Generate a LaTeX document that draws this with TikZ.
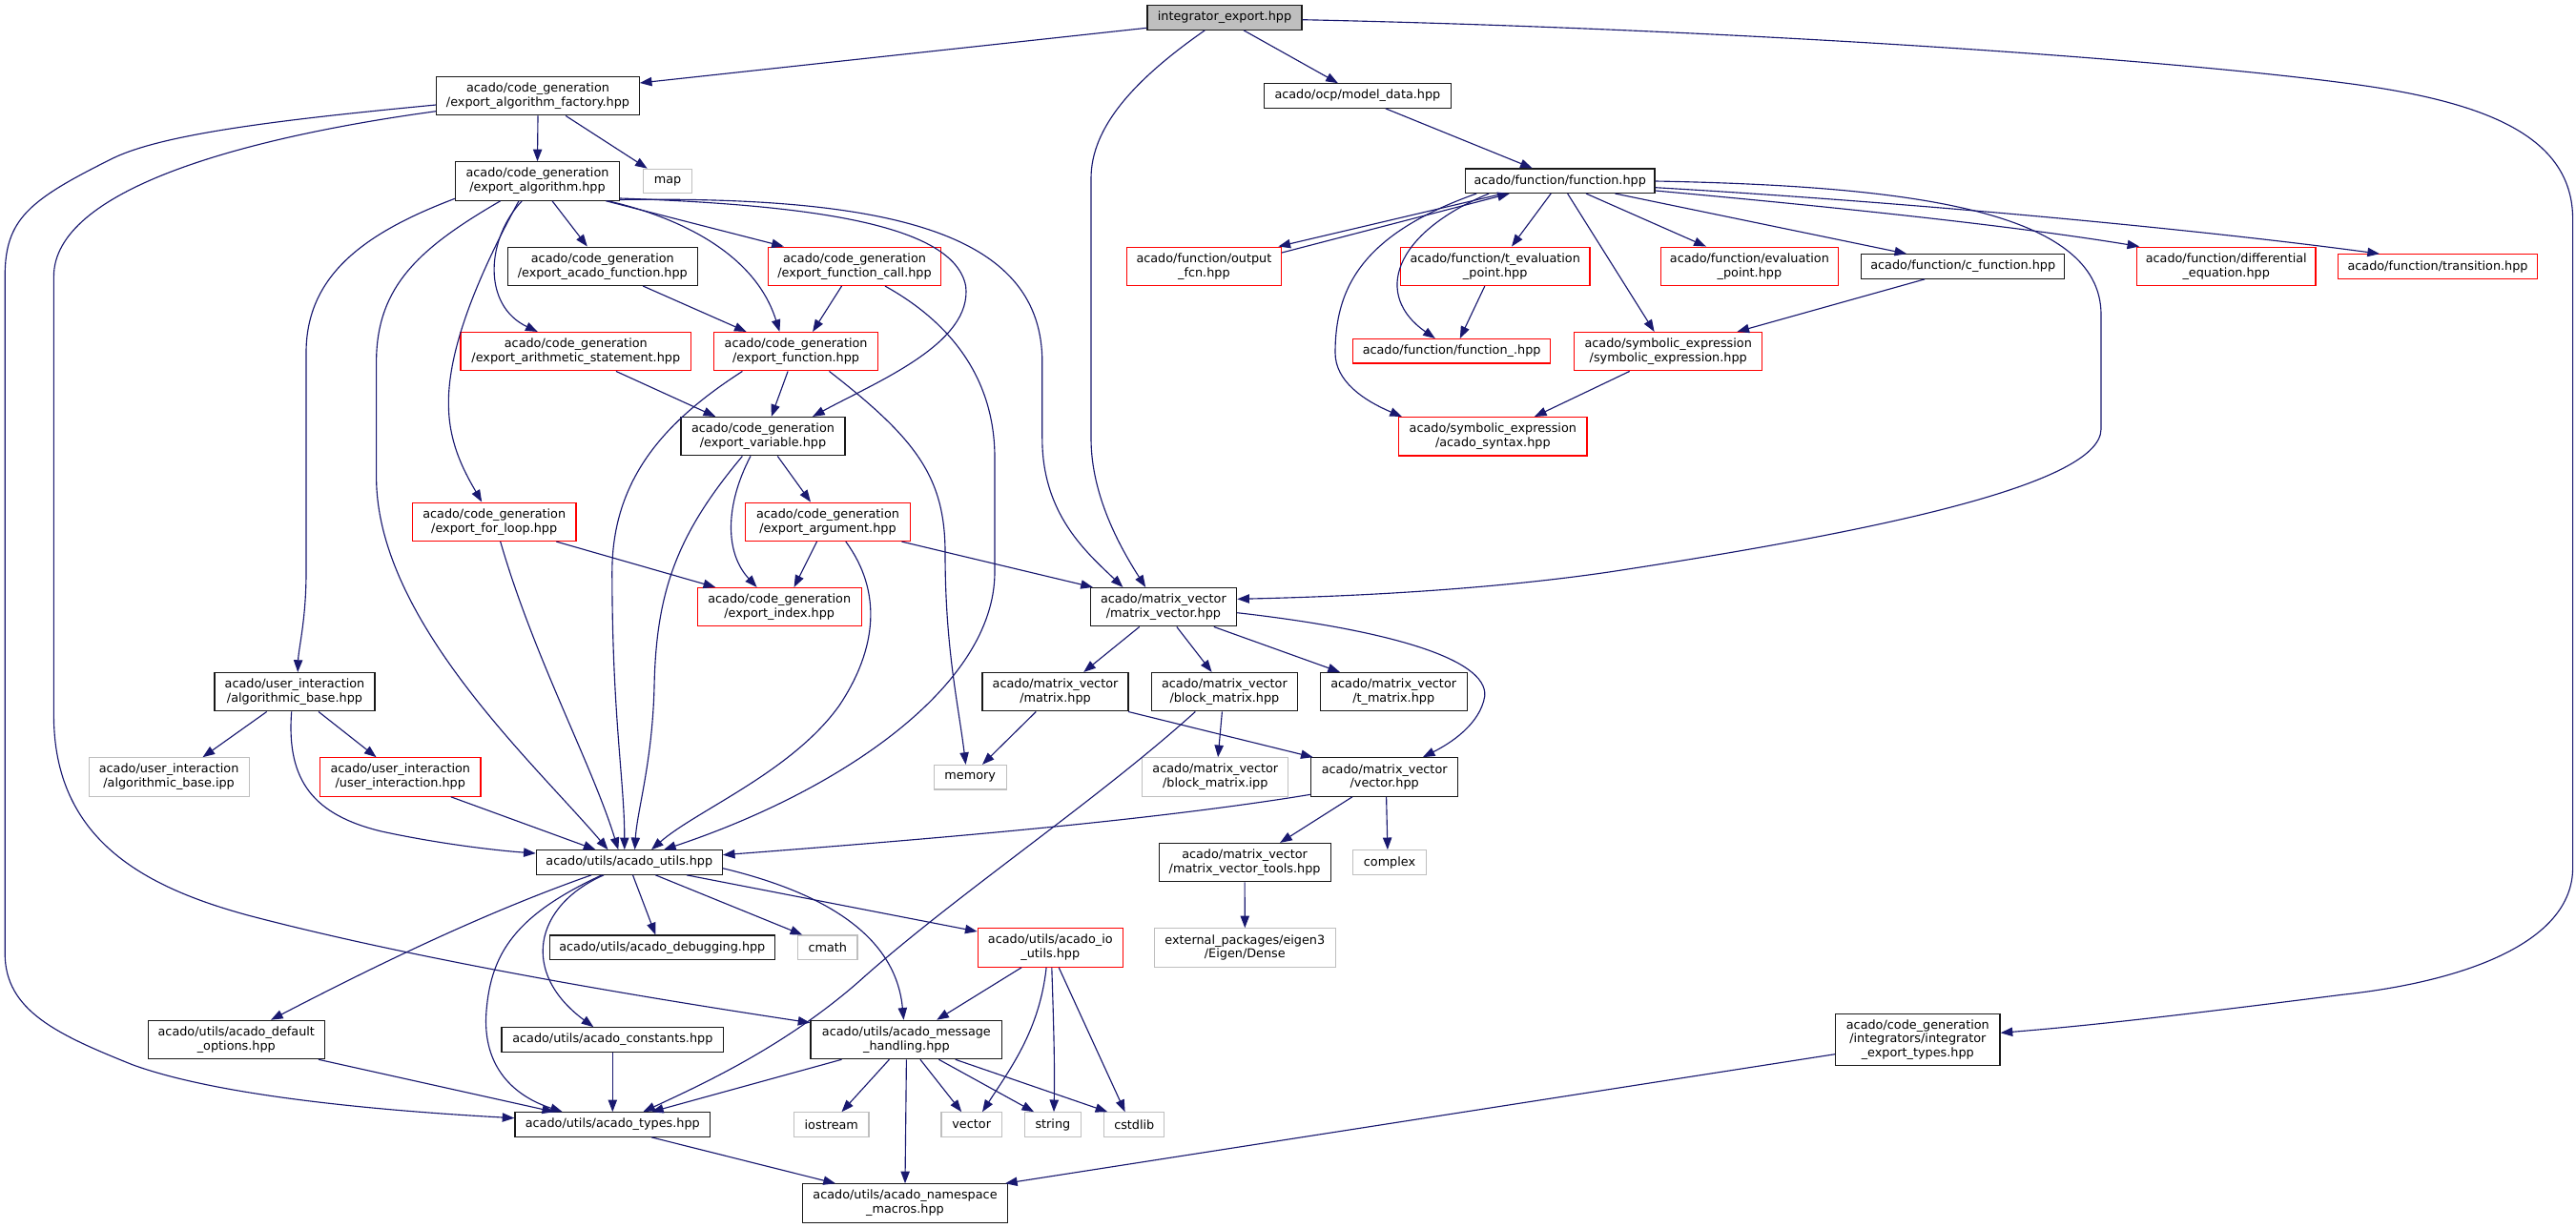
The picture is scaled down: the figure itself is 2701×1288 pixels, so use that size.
\documentclass[tikz,border=0pt]{standalone}
\usepackage{fontspec}
\setmainfont{DejaVu Sans}
\usetikzlibrary{arrows.meta,calc}
\definecolor{mblue}{HTML}{191970}
\newdimen\pxu \pxu=0.75pt
\newcommand\bx[6]{\node[#1,minimum width=#4\pxu,minimum height=#5\pxu] (#2) at (#3) {#6};}
\tikzset{
  box/.style={rectangle, inner sep=0pt, align=center, font=\fontsize{9.6}{11.1}\selectfont, line width=0.85pt, fill=white},
  bbox/.style={box, draw=black!90},
  rbox/.style={box, draw=red},
  gbox/.style={box, draw=black!25},
  rootbox/.style={box, draw=black!90, fill=black!25},
  dep/.style={draw=mblue, line width=0.85pt, -{Triangle[length=9.5pt,width=7pt]}}
}
\begin{document}
\begin{tikzpicture}[x=0.75pt,y=-0.75pt]
\fill[white] (0,0) rectangle (2701,1288);
\useasboundingbox (0,0) rectangle (2701,1288);
% nodes
\bx{rootbox}{IE}{1284,18.5}{162}{25.5}{integrator\_export.hpp}
\bx{bbox}{FAC}{564,100.7}{212.5}{40.4}{acado/code\_generation\\/export\_algorithm\_factory.hpp}
\bx{gbox}{MAP}{700,190}{51}{25.5}{map}
\bx{bbox}{EA}{563.5,190}{172}{40.4}{acado/code\_generation\\/export\_algorithm.hpp}
\bx{bbox}{MD}{1423.4,100.5}{196.5}{25.5}{acado/ocp/model\_data.hpp}
\bx{bbox}{F}{1635.7,189.7}{198.6}{25.5}{acado/function/function.hpp}
\bx{bbox}{EAF}{631.8,279.3}{198.6}{40.4}{acado/code\_generation\\/export\_acado\_function.hpp}
\bx{rbox}{EFC}{896,279.3}{181.3}{40.4}{acado/code\_generation\\/export\_function\_call.hpp}
\bx{rbox}{OF}{1262.4,279.3}{162.2}{40.4}{acado/function/output\\\_fcn.hpp}
\bx{rbox}{TEP}{1567.7,279.3}{198.6}{40.4}{acado/function/t\_evaluation\\\_point.hpp}
\bx{rbox}{EP}{1834.4,279.3}{186.5}{40.4}{acado/function/evaluation\\\_point.hpp}
\bx{bbox}{CF}{2058.2,279.5}{213.3}{25.5}{acado/function/c\_function.hpp}
\bx{rbox}{DE}{2334.2,279.3}{187.4}{40.4}{acado/function/differential\\\_equation.hpp}
\bx{rbox}{TR}{2556,279.5}{209}{25.5}{acado/function/transition.hpp}
\bx{rbox}{EAS}{603.8,368.7}{241.6}{40.4}{acado/code\_generation\\/export\_arithmetic\_statement.hpp}
\bx{rbox}{EF}{834.6,368.7}{172}{40.4}{acado/code\_generation\\/export\_function.hpp}
\bx{rbox}{FU}{1522.1,368.3}{207.3}{25.5}{acado/function/function\_.hpp}
\bx{rbox}{SE}{1749.2,368.7}{197.3}{40.4}{acado/symbolic\_expression\\/symbolic\_expression.hpp}
\bx{bbox}{EV}{800,457.7}{172}{40.4}{acado/code\_generation\\/export\_variable.hpp}
\bx{rbox}{AS}{1565.3,457.8}{197.3}{40.4}{acado/symbolic\_expression\\/acado\_syntax.hpp}
\bx{rbox}{EFL}{518.2,547.3}{171.6}{40.4}{acado/code\_generation\\/export\_for\_loop.hpp}
\bx{rbox}{EAR}{868,547.3}{172.2}{40.4}{acado/code\_generation\\/export\_argument.hpp}
\bx{rbox}{EI}{817.2,636.7}{172.2}{40.4}{acado/code\_generation\\/export\_index.hpp}
\bx{bbox}{MV}{1219.9,636.7}{153.5}{40.4}{acado/matrix\_vector\\/matrix\_vector.hpp}
\bx{bbox}{ABH}{309,725.7}{168}{40.4}{acado/user\_interaction\\/algorithmic\_base.hpp}
\bx{bbox}{MX}{1106.5,725.7}{153}{40.4}{acado/matrix\_vector\\/matrix.hpp}
\bx{bbox}{BM}{1283.9,725.7}{153}{40.4}{acado/matrix\_vector\\/block\_matrix.hpp}
\bx{bbox}{TM}{1461.2,725.7}{154}{40.4}{acado/matrix\_vector\\/t\_matrix.hpp}
\bx{gbox}{ABI}{177.1,815}{168}{40.4}{acado/user\_interaction\\/algorithmic\_base.ipp}
\bx{rbox}{UI}{419.8,815}{168.3}{40.4}{acado/user\_interaction\\/user\_interaction.hpp}
\bx{gbox}{MEM}{1017.2,815.2}{76}{25.5}{memory}
\bx{gbox}{BMI}{1274.3,815}{153}{40.4}{acado/matrix\_vector\\/block\_matrix.ipp}
\bx{bbox}{VEC}{1451.7,815}{154}{40.4}{acado/matrix\_vector\\/vector.hpp}
\bx{bbox}{AU}{659.8,904.5}{195}{25.5}{acado/utils/acado\_utils.hpp}
\bx{bbox}{MVT}{1305.1,904.7}{180}{40.4}{acado/matrix\_vector\\/matrix\_vector\_tools.hpp}
\bx{gbox}{CPX}{1457,904.5}{76.3}{25.5}{complex}
\bx{bbox}{AD}{694.3,993.8}{236}{25.5}{acado/utils/acado\_debugging.hpp}
\bx{gbox}{CM}{867.8,993.8}{62.5}{25.5}{cmath}
\bx{rbox}{IO}{1101.3,994}{152.2}{40.4}{acado/utils/acado\_io\\\_utils.hpp}
\bx{gbox}{EIG}{1305.3,994}{190}{40.4}{external\_packages/eigen3\\/Eigen/Dense}
\bx{bbox}{DO}{247.8,1090.5}{185.2}{40.4}{acado/utils/acado\_default\\\_options.hpp}
\bx{bbox}{CO}{642.3,1090.5}{232.5}{25.5}{acado/utils/acado\_constants.hpp}
\bx{bbox}{MH}{950.4,1090.5}{200.8}{40.4}{acado/utils/acado\_message\\\_handling.hpp}
\bx{bbox}{IET}{2010.8,1090.5}{172.4}{54.4}{acado/code\_generation\\/integrators/integrator\\\_export\_types.hpp}
\bx{bbox}{AT}{642.3,1179.5}{204.7}{25.5}{acado/utils/acado\_types.hpp}
\bx{gbox}{IOS}{871.8,1179.5}{78.5}{25.5}{iostream}
\bx{gbox}{VC}{1018.7,1179.5}{63.3}{25.5}{vector}
\bx{gbox}{ST}{1103.9,1179.5}{58.5}{25.5}{string}
\bx{gbox}{CS}{1189.3,1179.5}{62.8}{25.5}{cstdlib}
\bx{bbox}{NM}{949,1262}{215.5}{40.4}{acado/utils/acado\_namespace\\\_macros.hpp}
% edges from integrator_export.hpp
\draw[dep] ($(IE.west)+(0,10.8)$) -- ($(FAC.east)+(0,-13.7)$);
\draw[dep] ($(IE.south)+(-20.7,0)$) .. controls (1190,83) and (1144,133) .. (1144,187) -- (1144,460) .. controls (1144,520) and (1175,575) .. ($(MV.north)+(-18.7,0)$);
\draw[dep] ($(IE.south)+(20,0)$) -- ($(MD.north)+(-20.5,0)$);
\draw[dep] ($(IE.east)+(0,2.2)$) .. controls (1800,30) and (2250,60) .. (2455.7,86.7) .. controls (2600,105) and (2697.6,140) .. (2697.6,230) -- (2697.6,910) .. controls (2697.6,990) and (2580,1030) .. (2455.7,1043.3) .. controls (2300,1063) and (2200,1075) .. ($(IET.east)+(0,-7.2)$);
% factory
\draw[dep] (FAC.south) -- (EA.north);
\draw[dep] ($(FAC.south)+(29.2,0)$) -- ($(MAP.north)+(-21.3,0)$);
\draw[dep] ($(FAC.west)+(0,9.3)$) .. controls (300,125) and (170,140) .. (117,166.7) .. controls (30,210) and (5.2,230) .. (5.2,290) -- (5.2,1000) .. controls (5.2,1060) and (60,1085) .. (138.8,1116.7) .. controls (230,1150) and (400,1165) .. ($(AT.west)+(0,-6.8)$);
\draw[dep] ($(FAC.west)+(0,16)$) .. controls (250,145) and (56.4,200) .. (56.4,290) -- (56.4,750) .. controls (56.4,880) and (150,930) .. (260,960) .. controls (450,1010) and (700,1050) .. ($(MH.west)+(0,-17.8)$);
% export_algorithm
\draw[dep] ($(EA.south)+(15.5,0)$) -- ($(EAF.north)+(-16,0)$);
\draw[dep] ($(EA.south)+(71.8,0)$) -- ($(EFC.north)+(-74.2,0)$);
\draw[dep] ($(EA.south)+(-16.2,0)$) .. controls (510,250) and (505,320) .. ($(EAS.north)+(-40.1,0)$);
\draw[dep] ($(EA.south)+(74,0)$) .. controls (700,225) and (790,260) .. ($(EF.north)+(-17.2,0)$);
\draw[dep] ($(EA.east)+(0,18)$) .. controls (850,215) and (1000,235) .. (1012.6,300) .. controls (1020,360) and (920,400) .. ($(EV.north)+(52,0)$);
\draw[dep] ($(EA.east)+(0,19.5)$) .. controls (950,205) and (1092.8,250) .. (1092.8,380) -- (1092.8,460) .. controls (1092.8,540) and (1140,580) .. ($(MV.north)+(-42.5,0)$);
\draw[dep] ($(EA.south)+(-19.5,0)$) .. controls (490,310) and (468,380) .. (470.5,430) .. controls (472,470) and (490,500) .. ($(EFL.north)+(-13,0)$);
\draw[dep] ($(EA.west)+(0,18.3)$) .. controls (380,245) and (321,290) .. (321,370) -- (321,600) .. controls (321,650) and (313,680) .. ($(ABH.north)+(3.2,0)$);
\draw[dep] ($(EA.south)+(-38.8,0)$) .. controls (440,260) and (394.6,300) .. (394.6,380) -- (394.6,500) .. controls (394.6,650) and (560,800) .. ($(AU.north)+(-22.3,0)$);
% code generation middle
\draw[dep] ($(EAF.south)+(42.5,0)$) -- ($(EF.north)+(-51.9,0)$);
\draw[dep] ($(EFC.south)+(-13.5,0)$) -- ($(EF.north)+(17.5,0)$);
\draw[dep] ($(EFC.south)+(32,0)$) .. controls (1000,340) and (1043,400) .. (1043,480) -- (1043,600) .. controls (1043,720) and (880,830) .. ($(AU.north)+(36.2,0)$);
\draw[dep] ($(EAS.south)+(42.2,0)$) -- ($(EV.north)+(-49.8,0)$);
\draw[dep] ($(EF.south)+(-8.5,0)$) -- ($(EV.north)+(8.8,0)$);
\draw[dep] ($(EF.south)+(34.9,0)$) .. controls (960,460) and (991,500) .. (991,580) .. controls (991,680) and (1005,740) .. ($(MEM.north)+(-4.6,0)$);
\draw[dep] ($(EF.south)+(-56.2,0)$) .. controls (700,440) and (641.8,500) .. (641.8,600) .. controls (641.8,750) and (654.8,820) .. ($(AU.north)+(-5,0)$);
\draw[dep] ($(EV.south)+(-13,0)$) .. controls (760,530) and (760,580) .. ($(EI.north)+(-23.6,0)$);
\draw[dep] ($(EV.south)+(15.3,0)$) -- ($(EAR.north)+(-18,0)$);
\draw[dep] ($(EV.south)+(-21.6,0)$) .. controls (710,560) and (688,620) .. (686,720) .. controls (684,800) and (668,850) .. ($(AU.north)+(5.8,0)$);
\draw[dep] ($(EAR.south)+(-11.5,0)$) -- ($(EI.north)+(15.4,0)$);
\draw[dep] ($(EAR.south)+(77.4,0)$) -- ($(MV.north)+(-74,0)$);
\draw[dep] ($(EAR.south)+(18.8,0)$) .. controls (925,620) and (920,680) .. (880,740) .. controls (830,810) and (730,850) .. ($(AU.north)+(23.2,0)$);
\draw[dep] ($(EFL.south)+(65.1,0)$) -- ($(EI.north)+(-67,0)$);
\draw[dep] ($(EFL.south)+(6.5,0)$) .. controls (560,690) and (620,800) .. ($(AU.north)+(-11.5,0)$);
% user interaction
\draw[dep] ($(ABH.south)+(-29.3,0)$) -- ($(ABI.north)+(35.4,0)$);
\draw[dep] ($(ABH.south)+(25,0)$) -- ($(UI.north)+(-25.2,0)$);
\draw[dep] ($(ABH.south)+(-3.3,0)$) .. controls (300,820) and (330,855) .. (400,872) .. controls (460,885) and (520,892) .. ($(AU.west)+(0,-9.5)$);
\draw[dep] ($(UI.south)+(52.9,0)$) -- ($(AU.north)+(-35.3,0)$);
% function
\draw[dep] ($(MD.south)+(29.3,0)$) -- ($(F.north)+(-29,0)$);
\draw[dep] ($(F.south)+(-59.4,0)$) -- ($(OF.north)+(78,0)$);
\draw[dep] ($(OF.east)+(0,-14.3)$) -- ($(F.south)+(-52.9,0)$);
\draw[dep] ($(F.south)+(-9.5,0)$) -- ($(TEP.north)+(17.3,0)$);
\draw[dep] ($(F.south)+(-74.5,0)$) .. controls (1460,245) and (1440,310) .. ($(FU.north)+(-17.3,0)$);
\draw[dep] ($(TEP.south)+(-10.9,0)$) -- ($(FU.north)+(8.7,0)$);
\draw[dep] ($(F.south)+(-87.5,0)$) .. controls (1430,245) and (1400,300) .. (1400,370) .. controls (1400,400) and (1430,420) .. ($(AS.north)+(-95.3,0)$);
\draw[dep] ($(F.south)+(7.9,0)$) -- ($(SE.north)+(-14.6,0)$);
\draw[dep] ($(SE.south)+(-40.6,0)$) -- ($(AS.north)+(43.6,0)$);
\draw[dep] ($(CF.south)+(-40,0)$) -- ($(SE.north)+(72.2,0)$);
\draw[dep] ($(F.south)+(27.3,0)$) -- ($(EP.north)+(-45.6,0)$);
\draw[dep] ($(F.south)+(57.7,0)$) -- ($(CF.north)+(-59,0)$);
\draw[dep] ($(F.east)+(0,10.3)$) .. controls (1900,215) and (2100,235) .. ($(DE.north)+(-91,0)$);
\draw[dep] ($(F.east)+(0,7)$) .. controls (2000,212) and (2300,240) .. ($(TR.north)+(-61,0)$);
\draw[dep] ($(F.east)+(0,0.3)$) .. controls (2000,195) and (2203,220) .. (2203,330) -- (2203,450) .. controls (2203,510) and (1950,560) .. (1687,600) .. controls (1550,620) and (1400,626) .. ($(MV.east)+(0,-8.4)$);
% matrix vector
\draw[dep] ($(MV.south)+(-25.2,0)$) -- ($(MX.north)+(29.7,0)$);
\draw[dep] ($(MV.south)+(13.9,0)$) -- ($(BM.north)+(-13.3,0)$);
\draw[dep] ($(MV.south)+(52.9,0)$) -- ($(TM.north)+(-56.2,0)$);
\draw[dep] ($(MV.east)+(0,6)$) .. controls (1450,660) and (1560,690) .. (1556.8,730) .. controls (1552,760) and (1520,780) .. ($(VEC.north)+(40.1,0)$);
\draw[dep] ($(MX.south)+(-20.2,0)$) -- ($(MEM.north)+(12.8,0)$);
\draw[dep] ($(MX.south)+(76.5,0)$) -- ($(VEC.north)+(-75,0)$);
\draw[dep] ($(BM.south)+(-2.5,0)$) -- ($(BMI.north)+(2.8,0)$);
\draw[dep] ($(BM.south)+(-30.6,0)$) .. controls (1150,840) and (1000,940) .. (900,1030) .. controls (820,1100) and (730,1140) .. ($(AT.north)+(32,0)$);
\draw[dep] ($(VEC.west)+(0,18.3)$) .. controls (1200,862) and (950,882) .. ($(AU.east)+(0,-7.8)$);
\draw[dep] ($(VEC.south)+(-33.7,0)$) -- ($(MVT.north)+(37,0)$);
\draw[dep] ($(VEC.south)+(1.9,0)$) -- ($(CPX.north)+(-2.1,0)$);
\draw[dep] (MVT.south) -- (EIG.north);
% utils
\draw[dep] ($(AU.south)+(3.7,0)$) -- ($(AD.north)+(-7,0)$);
\draw[dep] ($(AU.south)+(27.5,0)$) -- ($(CM.north)+(-26.5,0)$);
\draw[dep] ($(AU.south)+(60.1,0)$) -- ($(IO.west)+(0,-17)$);
\draw[dep] ($(AU.east)+(0,6.2)$) .. controls (880,940) and (940,990) .. ($(MH.north)+(-2.9,0)$);
\draw[dep] ($(AU.south)+(-39.7,0)$) .. controls (500,960) and (380,1020) .. ($(DO.north)+(36.2,0)$);
\draw[dep] ($(AU.south)+(-26.7,0)$) .. controls (560,950) and (545,1020) .. ($(CO.north)+(-20,0)$);
\draw[dep] ($(AU.south)+(-28.8,0)$) .. controls (540,960) and (515,1000) .. (510,1060) .. controls (505,1120) and (540,1150) .. ($(AT.north)+(-52.5,0)$);
\draw[dep] ($(DO.south)+(86.1,0)$) -- ($(AT.north)+(-61.2,0)$);
\draw[dep] (CO.south) -- (AT.north);
\draw[dep] ($(MH.south)+(-67.9,0)$) -- ($(AT.north)+(40.7,0)$);
\draw[dep] ($(IO.south)+(-30.2,0)$) -- ($(MH.north)+(31.8,0)$);
\draw[dep] ($(IO.south)+(-4.2,0)$) .. controls (1090,1080) and (1060,1120) .. ($(VC.north)+(11.3,0)$);
\draw[dep] ($(IO.south)+(1.5,0)$) .. controls (1105,1080) and (1106,1120) .. ($(ST.north)+(1.1,0)$);
\draw[dep] ($(IO.south)+(8.9,0)$) -- ($(CS.north)+(-9.7,0)$);
\draw[dep] ($(MH.south)+(-18,0)$) -- ($(IOS.north)+(10.7,0)$);
\draw[dep] ($(MH.south)+(14.5,0)$) -- ($(VC.north)+(-10.5,0)$);
\draw[dep] ($(MH.south)+(34,0)$) -- ($(ST.north)+(-19.8,0)$);
\draw[dep] ($(MH.south)+(51.3,0)$) -- ($(CS.north)+(-28,0)$);
\draw[dep] (MH.south) -- (NM.north);
\draw[dep] ($(AT.south)+(40.7,0)$) -- ($(NM.north)+(-73,0)$);
\draw[dep] ($(IET.west)+(0,15.2)$) -- ($(NM.north)+(105,0)$);
\end{tikzpicture}
\end{document}
